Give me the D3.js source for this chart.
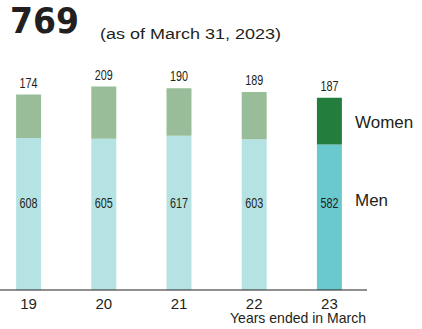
<!DOCTYPE html>
<html>
<head>
<meta charset="utf-8">
<script src="https://cdn.jsdelivr.net/npm/d3@7"></script>
<style>
  html, body { margin: 0; padding: 0; background: #fff; }
  svg { display: block; font-family: "Liberation Sans", Arial, sans-serif; }
</style>
</head>
<body>
<svg id="chart" width="422" height="329"></svg>
<script>
// Employees by fiscal year (years ended in March)
const years = ["19", "20", "21", "22", "23"];
const men = [608, 605, 617, 603, 582];
const women = [174, 209, 190, 189, 187];
const headline = "769";
const headlineNote = "(as of March 31, 2023)";
const axisNote = "Years ended in March";

const svg = d3.select("#chart");
const baseY = 290;
const ink = "#231f20";

const x = d3.scaleBand().domain(years).range([-9, 367]).paddingInner(0.668).paddingOuter(0.334);
const y = d3.scaleLinear().domain([0, 1000]).range([baseY, 40]);

const last = years[years.length - 1];
const colMen = d => d === last ? "#6ac9cf" : "#b5e2e2";
const colWomen = d => d === last ? "#237d3c" : "#98bd98";

// Headline
svg.append("text").attr("x", 10).attr("y", 33)
  .attr("font-family", "'DejaVu Sans', sans-serif").attr("font-weight", "bold")
  .attr("font-size", 36).attr("fill", ink)
  .attr("textLength", 69).attr("lengthAdjust", "spacingAndGlyphs").text(headline);
svg.append("text").attr("x", 100).attr("y", 39)
  .attr("font-size", 15.5).attr("fill", ink)
  .attr("textLength", 181).attr("lengthAdjust", "spacingAndGlyphs").text(headlineNote);

const rows = years.map((yr, i) => ({ yr, m: men[i], w: women[i] }));

const g = svg.append("g");
// Men segments
g.selectAll("rect.men").data(rows).join("rect").attr("class", "men")
  .attr("x", d => x(d.yr)).attr("width", x.bandwidth())
  .attr("y", d => y(d.m)).attr("height", d => baseY - y(d.m))
  .attr("fill", d => colMen(d.yr));
// Women segments
g.selectAll("rect.women").data(rows).join("rect").attr("class", "women")
  .attr("x", d => x(d.yr)).attr("width", x.bandwidth())
  .attr("y", d => y(d.m + d.w)).attr("height", d => y(d.m) - y(d.m + d.w))
  .attr("fill", d => colWomen(d.yr));

// Value labels (condensed numerals)
g.selectAll("text.wl").data(rows).join("text").attr("class", "wl")
  .attr("x", d => x(d.yr) + x.bandwidth() / 2 - 9).attr("y", d => y(d.m + d.w) - 7)
  .attr("font-size", 15).attr("fill", ink)
  .attr("textLength", 18).attr("lengthAdjust", "spacingAndGlyphs")
  .text(d => d.w);
g.selectAll("text.ml").data(rows).join("text").attr("class", "ml")
  .attr("x", d => x(d.yr) + x.bandwidth() / 2 - 9).attr("y", 208)
  .attr("font-size", 15).attr("fill", ink)
  .attr("textLength", 18).attr("lengthAdjust", "spacingAndGlyphs")
  .text(d => d.m);

// Series labels
svg.append("text").attr("x", 355).attr("y", 128).attr("font-size", 17)
  .attr("fill", ink).text("Women");
svg.append("text").attr("x", 355).attr("y", 206).attr("font-size", 17)
  .attr("fill", ink).text("Men");

// Axis
const axis = d3.axisBottom(x).tickSize(0).tickPadding(8);
const ax = svg.append("g").attr("transform", `translate(0,${baseY})`).call(axis);
ax.select(".domain").attr("d", "M0,0H367").attr("stroke", ink).attr("stroke-width", 1.2);
ax.selectAll("text").attr("font-size", 15).attr("fill", ink)
  .attr("font-family", "'Liberation Sans', Arial, sans-serif");

svg.append("text").attr("x", 230).attr("y", 323)
  .attr("font-size", 14.5).attr("fill", ink)
  .attr("textLength", 136).attr("lengthAdjust", "spacingAndGlyphs").text(axisNote);
</script>
</body>
</html>
